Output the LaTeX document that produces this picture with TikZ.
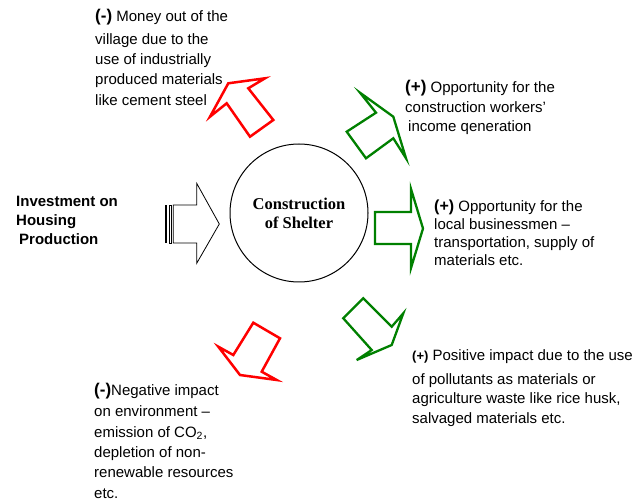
\documentclass[tikz,border=0pt]{standalone}
\usepackage{fontspec}
\setmainfont{Liberation Sans}
\newfontfamily\titleserif{Liberation Serif}
\definecolor{posgreen}{RGB}{0,128,0}
\definecolor{negred}{RGB}{255,0,0}

% left-aligned block of lines whose reference point is the first baseline
\newcommand{\txtlines}[1]{\begin{tabular}[t]{@{}l@{}}#1\end{tabular}}
% bold sign in front of a remark
\newcommand{\sgn}[1]{{\bfseries\fontsize{17}{20}\selectfont #1}}

\begin{document}
\begin{tikzpicture}[x=1pt,y=-1pt,
  remark/.style={inner sep=0pt, anchor=base west},
  negarrow/.style={draw=negred, line width=2.5pt, line join=miter, fill=white},
  posarrow/.style={draw=posgreen, line width=2.3pt, line join=miter, fill=white},
  inarrow/.style={draw=black, line width=0.8pt, fill=white}]
\useasboundingbox (0,0) rectangle (639,502);

% central process
\node[circle, draw, line width=1pt, minimum size=138pt, inner sep=0pt,
      font=\titleserif\bfseries\fontsize{16.5}{19}\selectfont, align=center]
      (shelter) at (299,213) {Construction\\of Shelter};

% input: striped block arrow
\fill[black] (165,205) rectangle (167.2,243);
\draw[inarrow] (169,205) rectangle (171.2,243);
\draw[inarrow] (173.3,205) -- (196.7,205) -- (196.7,183.3) -- (219.3,224)
   -- (196.7,263.3) -- (196.7,243) -- (173.3,243) -- cycle;

% negative outcome, upper left
\draw[negarrow] (250,136.7) -- (226.7,103.3) -- (210,116.7) -- (228.3,83.3)
   -- (265,78.3) -- (248.3,88.3) -- (273.3,120) -- cycle;
% negative outcome, lower left
\draw[negarrow] (253.3,322.7) -- (233.3,355) -- (218.3,346.7) -- (240,375)
   -- (276.7,380) -- (261.7,371.7) -- (280,338.3) -- cycle;

% positive outcome, upper right
\draw[posarrow] (346.7,131.7) -- (376,112.7) -- (360,92.7) -- (393.3,116.7)
   -- (406,158.3) -- (393.3,138.3) -- (366,158.3) -- cycle;
% positive outcome, right
\draw[posarrow] (375,212) -- (411,212) -- (411,189) -- (423,228.5)
   -- (411,268) -- (411,244) -- (375,244) -- cycle;
% positive outcome, lower right
\draw[posarrow] (343.3,318.3) -- (371.7,350) -- (356.7,360) -- (391.7,345)
   -- (403.3,313.3) -- (391.7,326.7) -- (363.3,298.3) -- cycle;

% labels
\node[remark, font=\bfseries\fontsize{15}{19}\selectfont] (invest) at (16,207)
  {\txtlines{Investment on\\Housing\\\hspace{3pt}Production}};

\node[remark, font=\fontsize{15}{20.3}\selectfont] (money) at (95,22)
  {\txtlines{\sgn{(-)} Money out of the\\[2pt]village due to the\\use of industrially\\produced materials\\like cement steel}};

\node[remark, font=\fontsize{15}{19.5}\selectfont] (workers) at (405,93)
  {\txtlines{\sgn{(+)} Opportunity for the\\construction workers’\\\hspace{3pt}income qeneration}};

\node[remark, font=\fontsize{15}{18}\selectfont] (business) at (434,212)
  {\txtlines{{\bfseries\fontsize{16}{18}\selectfont(+)} Opportunity for the\\local businessmen –\\transportation, supply of\\materials etc.}};

\node[remark, font=\fontsize{15}{19.5}\selectfont] (waste) at (412,360)
  {\txtlines{{\bfseries\fontsize{13}{16}\selectfont(+)} Positive impact due to the use\\[4.5pt]of pollutants as materials or\\agriculture waste like rice husk,\\salvaged materials etc.}};

\node[remark, font=\fontsize{15}{20.3}\selectfont] (environment) at (94,395)
  {\txtlines{\sgn{(-)}Negative impact\\[1.5pt]on environment –\\emission of CO\textsubscript{2},\\depletion of non-\\renewable resources\\etc.}};
\end{tikzpicture}
\end{document}
